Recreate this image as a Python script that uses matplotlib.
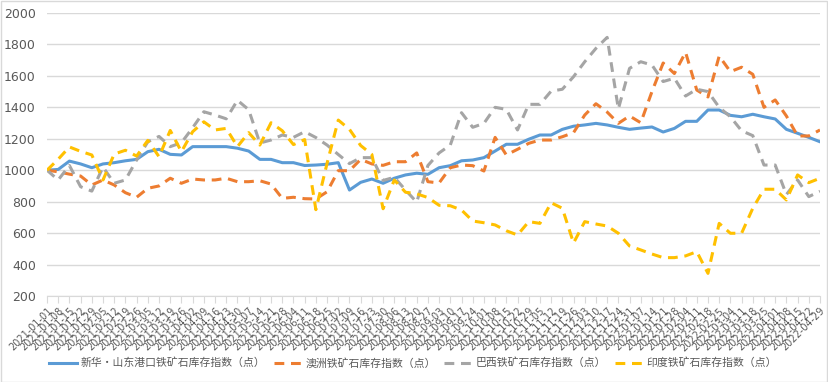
import matplotlib
matplotlib.use("Agg")
import matplotlib.pyplot as plt
import pandas as pd

plt.rcParams['font.family'] = ['Noto Sans CJK SC', 'DejaVu Sans']

# 周度数据 2021-01-01 ~ 2022-04-29
dates = pd.date_range("2021-01-01", periods=70, freq="7D").strftime("%Y-%m-%d").tolist()

xinhua_shandong = [1000, 1005, 1058, 1040, 1016, 1040, 1048, 1060, 1069, 1118,
                   1133, 1101, 1097, 1150, 1150, 1150, 1150, 1140, 1122, 1069,
                   1069, 1048, 1048, 1030, 1033, 1038, 1048, 874, 923, 944,
                   917, 949, 970, 981, 974, 1016, 1029, 1060, 1065, 1080,
                   1122, 1165, 1165, 1197, 1224, 1224, 1260, 1280, 1288, 1298,
                   1288, 1273, 1260, 1268, 1275, 1243, 1266, 1311, 1311, 1383,
                   1383, 1349, 1340, 1356, 1340, 1326, 1260, 1235, 1209, 1181]

australia = [1000, 990, 975, 963, 906, 938, 906, 857, 828, 885,
             900, 949, 917, 944, 938, 938, 949, 927, 927, 933,
             912, 821, 828, 819, 817, 863, 997, 997, 1069, 1040,
             1031, 1054, 1054, 1110, 927, 919, 1016, 1033, 1029, 995,
             1209, 1097, 1133, 1171, 1192, 1192, 1213, 1239, 1351, 1423,
             1370, 1298, 1345, 1302, 1500, 1682, 1615, 1750, 1510, 1466,
             1726, 1627, 1655, 1610, 1400, 1447, 1345, 1218, 1218, 1256]

brazil = [1000, 938, 1030, 895, 867, 1020, 917, 938, 1065, 1181,
          1215, 1150, 1175, 1270, 1372, 1351, 1327, 1445, 1385, 1173,
          1192, 1224, 1209, 1245, 1208, 1160, 1100, 1042, 1080, 1080,
          935, 955, 874, 797, 1030, 1110, 1160, 1366, 1273, 1298,
          1400, 1387, 1256, 1419, 1419, 1503, 1515, 1595, 1690, 1775,
          1845, 1390, 1648, 1690, 1669, 1564, 1585, 1472, 1515, 1500,
          1400, 1340, 1251, 1220, 1033, 1033, 845, 938, 832, 866]

india = [1000, 1070, 1148, 1120, 1097, 938, 1103, 1127, 1090, 1190,
         1086, 1253, 1118, 1245, 1308, 1256, 1266, 1150, 1239, 1160,
         1302, 1251, 1163, 1195, 749, 1044, 1319, 1260, 1157, 1100,
         755, 938, 860, 850, 826, 777, 774, 747, 677, 666,
         652, 615, 588, 673, 662, 793, 758, 537, 673, 658,
         645, 599, 518, 493, 467, 444, 444, 455, 482, 344,
         662, 599, 599, 758, 879, 879, 811, 970, 921, 949]

labels = ["新华·山东港口铁矿石库存指数（点）", "澳洲铁矿石库存指数（点）",
          "巴西铁矿石库存指数（点）", "印度铁矿石库存指数（点）"]
colors = ["#5b9bd5", "#ed7d31", "#a5a5a5", "#ffc000"]

fig = plt.figure(figsize=(8.29, 3.82), dpi=100)
ax = fig.add_axes([47 / 829, 1 - 296 / 382, 773 / 829, 283 / 382])

x = range(len(dates))
ax.plot(x, xinhua_shandong, color=colors[0], lw=2.2, label=labels[0])
ax.plot(x, australia, color=colors[1], lw=2.2, dashes=(3.2, 2.2), label=labels[1])
ax.plot(x, brazil, color=colors[2], lw=2.2, dashes=(3.2, 2.2), label=labels[2])
ax.plot(x, india, color=colors[3], lw=2.2, dashes=(3.2, 2.2), label=labels[3])

ax.set_ylim(200, 2000)
ax.set_yticks(range(200, 2001, 200))
ax.set_xlim(0, len(dates) - 1)
ax.set_xticks(list(x))
ax.set_xticklabels(dates, rotation=45, ha="right", rotation_mode="anchor",
                   fontsize=7, color="#595959", family="DejaVu Sans")
ax.tick_params(axis="y", length=0, labelsize=9, labelcolor="#595959", pad=8)
ax.tick_params(axis="x", length=5, color="#d9d9d9", pad=2)
for lab in ax.get_yticklabels():
    lab.set_family("DejaVu Sans")

ax.grid(axis="y", color="#d9d9d9", lw=1)
ax.set_axisbelow(True)
for s in ["left", "right", "top"]:
    ax.spines[s].set_visible(False)
ax.spines["bottom"].set_color("#d9d9d9")

fig.legend(loc="center", bbox_to_anchor=(413 / 829, 1 - 363 / 382), ncol=4, frameon=False,
           fontsize=7.8, handlelength=2.6, columnspacing=0.8, handletextpad=0.3,
           borderaxespad=0, borderpad=0, labelcolor="#595959")

fig.patches.append(plt.Rectangle((0.001, 0.001), 0.997, 0.997, transform=fig.transFigure,
                                 fill=False, edgecolor="#d9d9d9", lw=1))

fig.savefig("out.png", dpi=100)
